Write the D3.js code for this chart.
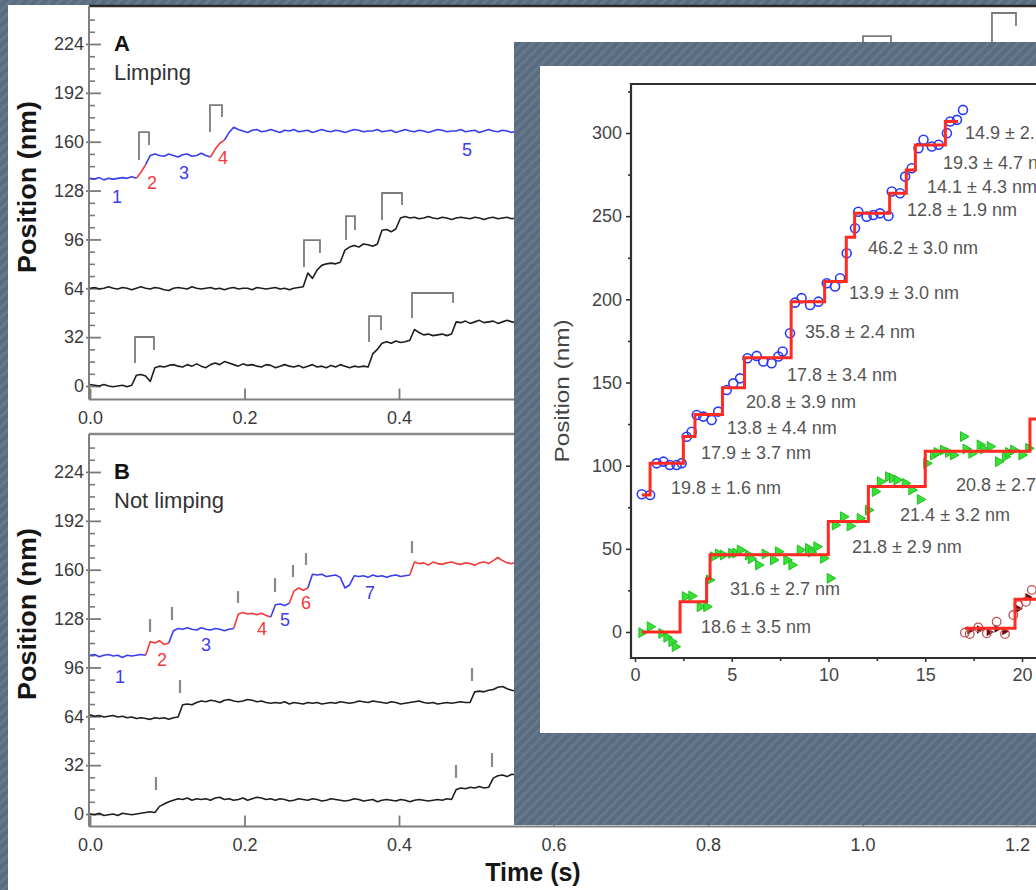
<!DOCTYPE html>
<html><head><meta charset="utf-8">
<script src="https://cdn.jsdelivr.net/npm/d3@7"></script>
<style>html,body{margin:0;padding:0;overflow:hidden;background:#5b6d80}svg{display:block}</style>
</head><body>
<script>
// ---------------- DATA ----------------
const sampleStep = 0.006; // s between trace samples (panels A, B)
const mainXTicks = [0, 0.2, 0.4, 0.6, 0.8, 1.0, 1.2];
const mainYTicks = [0, 32, 64, 96, 128, 160, 192, 224];

// Panel A traces (nm)
const traceA1 = [136,135.5,136.5,135,136,135.5,136,136.5,136,137,
 136,140,145,151,152,151,150.5,152,151,150,
 151.5,152,150.5,151,152.5,151,150,155,159,161,
 166,169.5,168,167,166,167.5,168,166.5,167,168,
 167,166,167.5,167,168,166.5,167,167.5,166,167,
 168,167,166.5,167.5,167,166,167,168,167.5,166.5,
 167,167,168,166.5,167,167.5,166,167,168,167,
 166.5,167.5,167,166,167,168,167.5,166.5,167,167,
 168,166.5,167,167.5,166,167,168,167,166.5,167.5,
 167,166,167];
const segA1 = [[0,10,"b"],[10,12,"r"],[12,26,"b"],[26,29,"r"],[29,92,"b"]];
const traceA2 = [64,64.5,63.5,64,65,64,63.5,64.5,64,63,
 64,65,64,63.5,64.5,64,63,62.5,64,64.5,
 64,63.5,65,64,63.5,64,64.5,63.5,64,63,
 64,64.5,63.5,64,64,63,64.5,64,63.5,64,
 64.5,63.5,64,63,64,64.5,65,74,70.5,76,
 79,80,80.5,80,81,89,91,92,91,93,
 92.5,91.5,93,102,102.5,101,103,110,111,110,
 110.5,109.5,110,111,110,109.5,110.5,110,109,110,
 110.5,110,109.5,110.5,110,109,110,110.5,109.5,110,
 110.5,109.5,110];
const traceA3 = [1,0.5,0,1,0,-0.5,0,0.5,-0.5,0.5,
 7,7.5,6.5,3,12,13,12.5,13.5,14,13,
 12.5,14,13,14.5,13,12,14,15,14,16,
 15,14,13,14.5,13.5,14,13,12.5,14,13.5,
 12,13,14,13,12.5,13.5,12,13,14,12.5,
 13,12,13.5,12.5,14,13,12,13,12.5,13,
 12.5,21,24,28,29,28,29.5,28.5,29,30,
 37,35,33.5,34,33,33.5,34,33,34,42,
 41.5,42.5,41,42,43,41.5,42,42.5,41,42,
 43,42,41.5];
// Panel B traces (nm)
const traceB1 = [104,104.5,103,104,104.5,103.5,104,102.5,104,103.5,
 104,104.5,104,113,112,113.5,111,112,120,121.5,
 121,122,121,120.5,122,121,120.5,121.5,121,120,
 121,121.5,131,132,131,131.5,130.5,131.5,130,129,
 137,137.5,136.5,138,146,148,146.5,148,157,156.5,
 157,155.5,156,156.5,155,148,150,156,155.5,156,
 155,156.5,155.5,156,155,156,156.5,155.5,156,156.5,
 165,164,164.5,163,165,164,163.5,164.5,165,164,
 163.5,164.5,164,163,164.5,165,164,166,168,166,
 164.5,164,165];
const segB1 = [[0,12,"b"],[12,17,"r"],[17,31,"b"],[31,39,"r"],[39,43,"b"],[43,47,"r"],[47,69,"b"],[69,92,"r"]];
const traceB2 = [65,64,64.5,63.5,64,64.5,63.5,64,63,63.5,
 62.5,63,62.5,62,63,62.5,63,62,63,63.5,
 71.5,72,71.5,73,74,73.5,74.5,74,73,74.5,
 75,74,73.5,74,75,74.5,73.5,74,73,72.5,
 73,72.5,73.5,72,73,72.5,72,73,72.5,73,
 72,72.5,73,72.5,73.5,73,72.5,73,74,73.5,
 73,74,73.5,73,72.5,73.5,73,72,72.5,73,
 73.5,74,73,72.5,73,72,72.5,73,72.5,73,
 73.5,73,73,80,80.5,80,81,81.5,83,83.5,
 82,81,80.5];
const traceB3 = [0,-0.5,0.5,-1,-0.5,0,-1,0.5,0,-0.5,
 0,0.5,1,1.5,1,5,6.5,8,9,10,
 9.5,10.5,9,10,9.5,10,9,10.5,11,9.5,
 10,9,9.5,10.5,9,10,11,10.5,9.5,10,
 9,10,9.5,8.5,9,10,9.5,9,10,9.5,
 8.5,9,10,9.5,9,8.5,9,10,9.5,8.5,
 9,9.5,8,9,9.5,9,8.5,9.5,9,8,
 9,9.5,9,8.5,9,9.5,9,10,9.5,16,
 17,16.5,17.5,17,18,17,17.5,23.5,25,25.5,
 24.5,26,25.5];
// Step markers: [t0, t1, top, leftBottom, rightBottom] (s, nm)
const bracketsA1 = [[0.0634,0.0764,166.3,148,157.8],[0.1553,0.1709,184,166.3,176.2],
 [1.0006,1.0369,229.2,215,215],[1.1676,1.1987,244.3,215,235.8]];
const bracketsA2 = [[0.277,0.2977,95.6,77.9,87.1],[0.3314,0.343,111.3,95.6,102.2],[0.378,0.4039,126.4,108.7,118.5]];
const bracketsA3 = [[0.0583,0.0828,32.1,15.1,23.6],[0.3612,0.3767,45.8,28.8,36.7],[0.4168,0.4699,60.9,44.5,54.4]];
// Step ticks panel B: [t, vLow, vHigh]
const ticksB1 = [[0.0777,119.2,127.7],[0.1061,127,135.6],[0.1916,138.2,146],[0.2395,145.4,154.5],[0.2628,155.2,163.1],[0.2796,163.1,170.9],[0.4168,170.9,178.8]];
const ticksB2 = [[0.1165,79.2,87.8],[0.4945,87.1,95.6]];
const ticksB3 = [[0.0854,15.7,24.2],[0.4738,23.6,32.1],[0.5204,30.8,39.9]];
// Step number labels: [text, t, v, colour]
const labelsA = [["1",0.035,123.8,"b"],["2",0.0803,132.9,"r"],["3",0.1217,139.5,"b"],["4",0.1722,149.3,"r"],["5",0.488,154.6,"b"]];
const labelsB = [["1",0.0388,89.7,"b"],["2",0.0932,100.9,"r"],["3",0.1502,110.7,"b"],["4",0.2227,121.2,"r"],["5",0.2524,127.0,"b"],["6",0.2796,138.2,"r"],["7",0.3625,144.7,"b"]];

// Inset (time in s, position in nm)
const insetXTicks = [0, 5, 10, 15, 20];
const insetXMinor = [2.5, 7.5, 12.5, 17.5];
const insetYTicks = [0, 50, 100, 150, 200, 250, 300];
const insetYMinor = [25, 75, 125, 175, 225, 275, 325];
const blueDots = [[0.35,82.8],[0.78,82.4],[1.12,101.4],[1.47,102.4],[1.8,100.4],[2.15,100.4],[2.41,101.5],[2.67,117.4],[2.93,120.4],[3.19,130.5],[3.53,129.5],[3.96,127.5],[4.3,132.5],[4.74,145.5],[5.08,149.5],[5.43,152.5],[5.81,164.6],[6.29,166],[6.63,162.6],[7.06,161.6],[7.41,165.6],[7.63,168.6],[8.01,179.6],[8.27,198],[8.61,200.7],[9.05,196.6],[9.48,198.6],[9.91,209.7],[10.34,207.7],[10.6,212.7],[10.94,227.7],[11.37,242.7],[11.54,252.7],[11.97,249.7],[12.32,250.7],[12.66,251.7],[13.1,250.1],[13.27,264.8],[13.7,263.8],[13.96,273.8],[14.3,278.8],[14.65,290.9],[14.91,295.9],[15.34,291.9],[15.69,292.9],[16.12,299.9],[16.29,306.9],[16.64,307.9],[16.95,313.9]];
const greenDots = [[0.35,-0.4],[0.78,3.2],[1.38,-0.8],[1.64,-3.2],[1.9,-5.8],[2.07,-8.8],[2.59,21.3],[2.93,21.7],[3.36,15.2],[3.7,15.2],[3.84,31.3],[4.05,45.3],[4.3,47],[4.56,46.3],[4.99,47.3],[5.2,47.5],[5.43,49.3],[5.86,46.3],[6.0,44],[6.38,40.3],[6.72,46.9],[7.15,43.3],[7.41,48.3],[7.84,43.3],[8.1,40.3],[8.53,49.3],[8.96,50.3],[9.1,48],[9.39,51.3],[9.74,44.3],[10.08,32.3],[10.34,64.3],[10.77,69.3],[11.11,63.7],[11.63,68.3],[12.06,73.3],[12.41,84.4],[12.67,90.4],[13.1,93.4],[13.3,92.5],[13.53,91.4],[13.96,89.4],[14.3,85.4],[14.74,79.7],[15.07,101.4],[15.42,106.4],[15.6,108],[15.93,109.4],[16.2,108],[16.45,106.4],[16.97,117.5],[17.1,110],[17.4,107.4],[17.83,112.5],[18.0,110],[18.35,111.5],[18.78,102.4],[19.13,105.4],[19.3,108],[19.56,109.4],[19.99,106.4],[20.34,110.4]];
const darkDots = [[17.05,-0.4],[17.3,-1.2],[17.74,2.8],[18.18,-0.8],[18.69,6.2],[19.12,-1.2],[19.55,10.2],[19.81,16.2],[20.2,18.2],[20.51,25.3]];
const darkFilled = [[17.3,1],[17.8,1.5],[18.3,0],[18.7,2],[19.1,0.5],[19.8,14],[20.3,21]];
const blueFit = [[0.35,82.4],[0.78,101.4],[2.5,117.6],[3.1,130.7],[4.52,146.8],[5.66,164.9],[8.07,198.6],[9.8,210.7],[10.92,237.3],[11.35,251.8],[13.16,263.8],[14.02,277.8],[14.49,292.8],[16.04,306.9],[16.7,306.9]];
const greenFit = [[0.35,0],[2.33,18.2],[3.7,32],[3.88,46.4],[9.99,66.4],[12.06,87.5],[15.0,108.6],[20.41,128],[21.5,128]];
const darkFit = [[17.05,2.2],[19.64,19.7],[21.5,19.7]];
// Step-size annotations: [text, t, v] (left anchor)
const stepNotes = [["14.9 ± 2.1 nm",17.05,300.1],["19.3 ± 4.7 nm",15.92,282.0],["14.1 ± 4.3 nm",15.09,267.6],["12.8 ± 1.9 nm",14.06,253.8],["46.2 ± 3.0 nm",12.04,230.9],["13.9 ± 3.0 nm",11.06,203.8],["35.8 ± 2.4 nm",8.79,180.4],["17.8 ± 3.4 nm",7.86,154.5],["20.8 ± 3.9 nm",5.74,138.3],["13.8 ± 4.4 nm",4.75,122.7],["17.9 ± 3.7 nm",3.41,107.6],["19.8 ± 1.6 nm",1.86,86.6],["20.8 ± 2.7 nm",16.59,88.4],["21.4 ± 3.2 nm",13.7,70.4],["21.8 ± 2.9 nm",11.21,51.1],["31.6 ± 2.7 nm",4.91,25.9],["18.6 ± 3.5 nm",3.41,3.0]];

// ---------------- DRAW ----------------
const FONT = "'Liberation Sans', Arial, Helvetica, sans-serif";
const col = {b:"#3b3bf2", r:"#f23a3a", k:"#1e1e1e"};
const svg = d3.select("body").append("svg").attr("width",1036).attr("height",890);
const defs = svg.append("defs");
const pat = defs.append("pattern").attr("id","stripes").attr("patternUnits","userSpaceOnUse")
  .attr("width",7).attr("height",7).attr("patternTransform","rotate(45)");
pat.append("rect").attr("width",7).attr("height",7).attr("fill","#5a6c7f");
pat.append("rect").attr("width",2.5).attr("height",7).attr("fill","#67798c");

svg.append("rect").attr("width",1036).attr("height",890).attr("fill","url(#stripes)");
svg.append("rect").attr("x",8).attr("y",5).attr("width",1040).attr("height",900).attr("fill","#ffffff");

const xMain = d3.scaleLinear().domain([0,1.2]).range([90,1017]);
const yA = d3.scaleLinear().domain([0,224]).range([386,44]);
const yB = d3.scaleLinear().domain([0,224]).range([814,472]);

function panel(yS, top, bottom, topColor, minorMax) {
  const g = svg.append("g");
  const minor = d3.range(8, minorMax, 8).filter(v => v % 32 !== 0);
  const gm = g.append("g").attr("transform","translate(89,0)")
    .call(d3.axisLeft(yS).tickValues(minor).tickSize(-6).tickSizeOuter(0).tickFormat(()=>""));
  gm.select(".domain").remove();
  gm.selectAll("line").attr("stroke","#7a7a7a").attr("stroke-width",1.6);
  const gy = g.append("g").attr("transform","translate(89,0)")
    .call(d3.axisLeft(yS).tickValues(mainYTicks).tickSize(-12).tickSizeOuter(0).tickPadding(5));
  gy.select(".domain").remove();
  gy.selectAll("line").attr("x1",-3).attr("stroke","#7a7a7a").attr("stroke-width",1.8);
  gy.selectAll("text").attr("font-size",18).attr("font-family",FONT).attr("fill","#3a3a3a");
  const gx = g.append("g").attr("transform",`translate(0,${bottom})`)
    .call(d3.axisBottom(xMain).tickValues(mainXTicks).tickSize(-11).tickSizeOuter(0).tickPadding(12).tickFormat(d3.format(".1f")));
  gx.select(".domain").remove();
  gx.selectAll("line").attr("stroke","#7a7a7a").attr("stroke-width",1.8);
  gx.selectAll("text").attr("font-size",18).attr("font-family",FONT).attr("fill","#3a3a3a");
  g.append("line").attr("x1",89).attr("x2",1040).attr("y1",top).attr("y2",top).attr("stroke",topColor).attr("stroke-width",2.5);
  g.append("line").attr("x1",89).attr("x2",89).attr("y1",top).attr("y2",bottom).attr("stroke","#808080").attr("stroke-width",2);
  g.append("line").attr("x1",89).attr("x2",1040).attr("y1",bottom).attr("y2",bottom).attr("stroke","#808080").attr("stroke-width",2);
  return g;
}
const gA = panel(yA, 6, 399.5, "#2a2a2a", 248);
const gB = panel(yB, 434, 826.5, "#8a8a8a", 248);

function drawTrace(g, vals, segs, yS) {
  segs.forEach(([a,b,c]) => {
    const pts = vals.slice(a, b+1).map((v,k) => [(a+k)*sampleStep, v]);
    g.append("path").datum(pts)
      .attr("d", d3.line().x(d=>xMain(d[0])).y(d=>yS(d[1])))
      .attr("fill","none").attr("stroke",col[c]).attr("stroke-width",1.6).attr("stroke-linejoin","round");
  });
}
drawTrace(gA, traceA1, segA1, yA);
drawTrace(gA, traceA2, [[0,traceA2.length-1,"k"]], yA);
drawTrace(gA, traceA3, [[0,traceA3.length-1,"k"]], yA);
drawTrace(gB, traceB1, segB1, yB);
drawTrace(gB, traceB2, [[0,traceB2.length-1,"k"]], yB);
drawTrace(gB, traceB3, [[0,traceB3.length-1,"k"]], yB);

function drawBrackets(g, list, yS) {
  g.selectAll(null).data(list).enter().append("path")
    .attr("d", d => `M${xMain(d[0])},${yS(d[3])}V${yS(d[2])}H${xMain(d[1])}V${yS(d[4])}`)
    .attr("fill","none").attr("stroke","#7c7c7c").attr("stroke-width",1.8);
}
drawBrackets(gA, bracketsA1, yA);
drawBrackets(gA, bracketsA2, yA);
drawBrackets(gA, bracketsA3, yA);
function drawTicks(g, list, yS) {
  g.selectAll(null).data(list).enter().append("line")
    .attr("x1", d=>xMain(d[0])).attr("x2", d=>xMain(d[0]))
    .attr("y1", d=>yS(d[1])).attr("y2", d=>yS(d[2]))
    .attr("stroke","#8a8a8a").attr("stroke-width",2.2);
}
drawTicks(gB, ticksB1, yB);
drawTicks(gB, ticksB2, yB);
drawTicks(gB, ticksB3, yB);
function drawLabels(g, list, yS) {
  g.selectAll(null).data(list).enter().append("text")
    .attr("x", d=>xMain(d[1])).attr("y", d=>yS(d[2])).attr("dy","0.35em")
    .attr("text-anchor","middle").attr("font-size",18).attr("font-family",FONT)
    .attr("fill", d=>col[d[3]]).text(d=>d[0]);
}
drawLabels(gA, labelsA, yA);
drawLabels(gB, labelsB, yB);

svg.append("text").attr("x",114).attr("y",51).attr("font-size",22).attr("font-weight","bold").attr("font-family",FONT).attr("fill","#111").text("A");
svg.append("text").attr("x",114).attr("y",80).attr("font-size",22).attr("font-family",FONT).attr("fill","#333").text("Limping");
svg.append("text").attr("x",114).attr("y",479).attr("font-size",22).attr("font-weight","bold").attr("font-family",FONT).attr("fill","#111").text("B");
svg.append("text").attr("x",114).attr("y",508).attr("font-size",22).attr("font-family",FONT).attr("fill","#333").text("Not limping");
[187, 614].forEach(cy => {
  svg.append("text").attr("transform",`translate(36,${cy}) rotate(-90)`).attr("text-anchor","middle")
    .attr("font-size",25).attr("font-weight","bold").attr("font-family",FONT).attr("fill","#161616")
    .attr("textLength",172).attr("lengthAdjust","spacingAndGlyphs").text("Position (nm)");
});
svg.append("text").attr("x",533).attr("y",881).attr("text-anchor","middle")
  .attr("font-size",25).attr("font-weight","bold").attr("font-family",FONT).attr("fill","#161616").text("Time (s)");

// ---------------- INSET ----------------
svg.append("rect").attr("x",514).attr("y",42).attr("width",530).attr("height",783).attr("fill","url(#stripes)");
svg.append("rect").attr("x",540).attr("y",66).attr("width",500).attr("height",667).attr("fill","#ffffff");
const xI = d3.scaleLinear().domain([0,20]).range([635,1022]);
const yI = d3.scaleLinear().domain([0,300]).range([632,133]);
const gI = svg.append("g");
function insetAxis(axis, tf) {
  const a = gI.append("g").attr("transform",tf).call(axis);
  a.select(".domain").remove();
  a.selectAll("line").attr("stroke","#333").attr("stroke-width",1.6);
  a.selectAll("text").attr("font-size",18).attr("font-family",FONT).attr("fill","#444");
}
insetAxis(d3.axisLeft(yI).tickValues(insetYMinor).tickSize(3).tickSizeOuter(0).tickFormat(()=>""), "translate(631,0)");
insetAxis(d3.axisLeft(yI).tickValues(insetYTicks).tickSize(5).tickSizeOuter(0).tickPadding(4), "translate(631,0)");
insetAxis(d3.axisBottom(xI).tickValues(insetXMinor).tickSize(3).tickSizeOuter(0).tickFormat(()=>""), "translate(0,658)");
insetAxis(d3.axisBottom(xI).tickValues(insetXTicks).tickSize(4).tickSizeOuter(0).tickPadding(6), "translate(0,658)");
gI.append("path").attr("d","M1040,84H631V658H1040").attr("fill","none").attr("stroke","#2e2e2e").attr("stroke-width",2.2);
gI.append("text").attr("transform","translate(569,391) rotate(-90)").attr("text-anchor","middle")
  .attr("font-size",20).attr("font-family",FONT).attr("fill","#444")
  .attr("textLength",143).attr("lengthAdjust","spacingAndGlyphs").text("Position (nm)");

const stepLine = d3.line().x(d=>xI(d[0])).y(d=>yI(d[1])).curve(d3.curveStepAfter);
gI.selectAll(null).data(greenDots).enter().append("path")
  .attr("d", d3.symbol(d3.symbolTriangle, 42))
  .attr("transform", d=>`translate(${xI(d[0])},${yI(d[1])}) rotate(90)`)
  .attr("fill","#39e039").attr("stroke","#20c020").attr("stroke-width",1);
gI.selectAll(null).data(darkFilled).enter().append("path")
  .attr("d", d3.symbol(d3.symbolTriangle, 30))
  .attr("transform", d=>`translate(${xI(d[0])},${yI(d[1])}) rotate(90)`)
  .attr("fill","#6a0c0c");
gI.selectAll(null).data(darkDots).enter().append("circle")
  .attr("cx", d=>xI(d[0])).attr("cy", d=>yI(d[1])).attr("r",4.3)
  .attr("fill","none").attr("stroke","#c25050").attr("stroke-width",1.3);
gI.selectAll(null).data(blueDots).enter().append("circle")
  .attr("cx", d=>xI(d[0])).attr("cy", d=>yI(d[1])).attr("r",4.5)
  .attr("fill","none").attr("stroke","#2a3cf5").attr("stroke-width",1.6);
[blueFit, greenFit, darkFit].forEach(f => {
  gI.append("path").datum(f).attr("d", stepLine).attr("fill","none")
    .attr("stroke","#ff2a22").attr("stroke-width",3);
});
gI.selectAll(null).data(stepNotes).enter().append("text")
  .attr("x", d=>xI(d[1])).attr("y", d=>yI(d[2])).attr("dy","0.35em")
  .attr("font-size",18).attr("font-family",FONT).attr("fill","#555").text(d=>d[0]);
</script>
</body></html>
